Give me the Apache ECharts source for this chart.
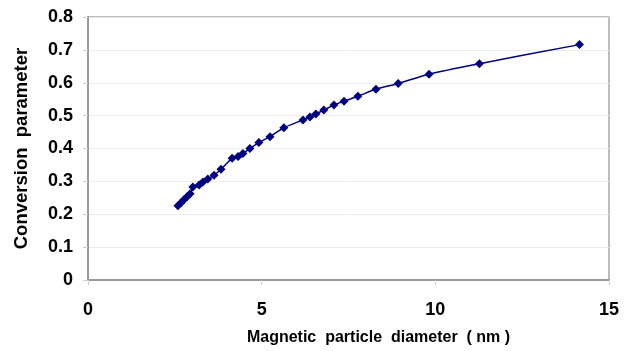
<!DOCTYPE html>
<html>
<head>
<meta charset="utf-8">
<script src="https://cdn.jsdelivr.net/npm/echarts@6/dist/echarts.min.js"></script>
<style>
  html, body {margin: 0; padding: 0; background: #fff;}
  #chart {width: 632px; height: 351px;}
</style>
</head>
<body>
<div id="chart"></div>
<script>
// particle diameter (nm) vs conversion parameter
const diameters = [2.59, 2.68, 2.76, 2.85, 2.94, 3.02, 3.20, 3.31, 3.45, 3.63,
  3.83, 4.15, 4.32, 4.46, 4.66, 4.92, 5.24, 5.64, 6.19, 6.39,
  6.56, 6.79, 7.08, 7.37, 7.77, 8.29, 8.93, 9.82, 11.27, 14.15];
const conversion = [0.226, 0.235, 0.244, 0.253, 0.262, 0.283, 0.289, 0.298, 0.307, 0.319,
  0.337, 0.370, 0.376, 0.385, 0.400, 0.418, 0.436, 0.463, 0.487, 0.496,
  0.505, 0.517, 0.532, 0.544, 0.559, 0.580, 0.598, 0.626, 0.658, 0.716];

const font = 'Liberation Sans, Arial, sans-serif';
const chart = echarts.init(document.getElementById('chart'));

chart.setOption({
  animation: false,
  grid: {
    left: 88, right: 23, top: 17, bottom: 68,
    show: true, borderColor: '#a6a6a6', borderWidth: 1.5
  },
  xAxis: {
    type: 'value',
    min: 0, max: 15, interval: 5,
    name: 'Magnetic  particle  diameter  ( nm )',
    nameLocation: 'middle',
    nameGap: 50,
    nameTextStyle: {fontFamily: font, fontWeight: 'bold', fontSize: 16, color: '#000', padding: [0, 0, 0, 60]},
    axisLine: {lineStyle: {color: '#9a9a9a', width: 2}},
    axisTick: {show: true, length: 5, lineStyle: {color: '#cfcfcf'}},
    axisLabel: {fontFamily: font, fontWeight: 'bold', fontSize: 18, color: '#000', margin: 21},
    splitLine: {show: false}
  },
  yAxis: {
    type: 'value',
    min: 0, max: 0.8, interval: 0.1,
    name: 'Conversion  parameter',
    nameLocation: 'middle',
    nameGap: 57,
    nameTextStyle: {fontFamily: font, fontWeight: 'bold', fontSize: 18.5, color: '#000'},
    axisLine: {show: true, lineStyle: {color: '#9a9a9a', width: 2}},
    axisTick: {show: true, length: 5, lineStyle: {color: '#cfcfcf'}},
    axisLabel: {fontFamily: font, fontWeight: 'bold', fontSize: 18, color: '#000', margin: 15},
    splitLine: {lineStyle: {color: '#ececec', width: 1}}
  },
  series: [{
    type: 'line',
    data: diameters.map((d, i) => [d, conversion[i]]),
    smooth: 0.3,
    symbol: 'diamond',
    symbolSize: 9,
    lineStyle: {color: '#000080', width: 1.5},
    itemStyle: {color: '#000080'}
  }]
});
</script>
</body>
</html>
